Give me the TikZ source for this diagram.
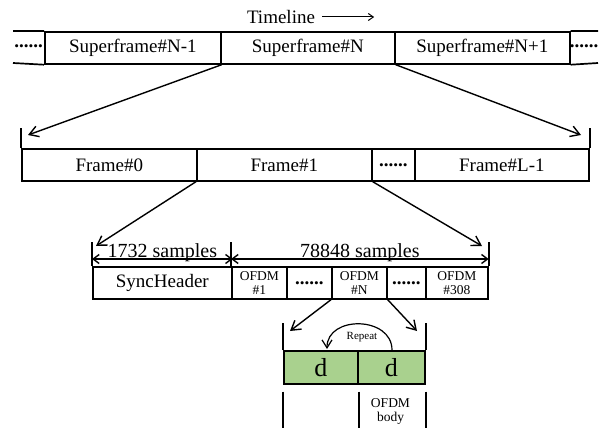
\documentclass[tikz,border=0pt]{standalone}
\usepackage{fontspec}
\setmainfont{Liberation Serif}
\usetikzlibrary{arrows.meta}
\definecolor{dgreen}{HTML}{A9D18E}

\begin{document}
\begin{tikzpicture}[x=1pt,y=-1pt,line width=1.7pt,
    cell/.style={draw,anchor=north west,minimum height=32pt,inner sep=0pt,font=\fontsize{19}{21}\selectfont},
    dots/.style={font=\fontsize{19}{21}\selectfont\bfseries},
    small/.style={font=\fontsize{13.5}{14}\selectfont,align=center},
    big/.style={font=\fontsize{20}{22}\selectfont},
    tip/.style={line width=1.4pt,-{Straight Barb[length=9pt,width=11pt]}},
    dim/.style={line width=1.4pt,{Straight Barb[length=6pt,width=9pt]}-{Straight Barb[length=6pt,width=9pt]}}]
\useasboundingbox (0,0) rectangle (603,428);
    % superframes
    \node[font=\fontsize{19}{21}\selectfont] (tl) at (281,17) {Timeline};
    \draw[line width=1pt,-{Straight Barb[length=5pt,width=7pt]}] ([xshift=3pt]tl.east) -- ++(52,0);
    \node[cell,minimum width=176pt] (sfA) at (44,31) {Superframe\#N-1};
    \node[cell,minimum width=174pt] (sfB) at (220,31) {Superframe\#N};
    \node[cell,minimum width=175pt] (sfC) at (394,31) {Superframe\#N+1};
    \node[dots] (sfL) at (28.5,46) {......};
    \node[dots] (sfR) at (584,46) {......};
    \draw (13,31) -- (sfA.north west) (13,63) -- (sfA.south west);
    \draw (sfC.north east) -- (598,31) (sfC.south east) -- (598,63);
    % frames
    \node[cell,minimum width=175pt] (fr0) at (21,148) {Frame\#0};
    \node[cell,minimum width=175pt] (fr1) at (196,148) {Frame\#1};
    \node[cell,dots,minimum width=43pt] (frD) at (371,148) {......};
    \node[cell,minimum width=174pt] (frL) at (414,148) {Frame\#L-1};
    \draw (fr0.north west) -- ++(0,-20) (frL.north east) -- ++(0,-20);
    \coordinate (tA) at (28,135);
    \coordinate (tB) at (581,135);
    \draw[tip] (sfA.south east) -- (tA);
    \draw[tip] (sfB.south east) -- (tB);
    % samples
    \node[cell,minimum width=139pt] (sync) at (92,266) {SyncHeader};
    \node[cell,small,minimum width=55pt] (of1) at (231,266) {OFDM\\\#1};
    \node[cell,dots,minimum width=45pt] (ofD1) at (286,266) {......};
    \node[cell,small,minimum width=55pt] (ofN) at (331,266) {OFDM\\\#N};
    \node[cell,dots,minimum width=39pt] (ofD2) at (386,266) {......};
    \node[cell,small,minimum width=62pt] (of308) at (425,266) {OFDM\\\#308};
    \draw (sync.north west) -- ++(0,-24) (of1.north west) -- ++(0,-24) (of308.north east) -- ++(0,-24);
    \draw[dim] ([yshift=7pt]sync.north west) -- ([yshift=7pt]sync.north east)
        node[midway,big,anchor=base,yshift=2pt,inner sep=0pt] (lenA) {1732 samples};
    \draw[dim] ([yshift=7pt]of1.north west) -- ([yshift=7pt]of308.north east)
        node[midway,big,anchor=base,yshift=2pt,inner sep=0pt] (lenB) {78848 samples};
    \coordinate (tC) at (96,246);
    \coordinate (tD) at (482,246);
    \draw[tip] (fr1.south west) -- (tC);
    \draw[tip] (fr1.south east) -- (tD);
    % repeated part
    \node[cell,fill=dgreen,font=\fontsize{26}{28}\selectfont,minimum width=74pt,minimum height=33pt] (d1) at (283,350) {d};
    \node[cell,fill=dgreen,font=\fontsize{26}{28}\selectfont,minimum width=67pt,minimum height=33pt] (d2) at (357,350) {d};
    \draw (d1.north west) -- ++(0,-27) (d2.north east) -- ++(0,-27);
    \coordinate (tE) at (290,331);
    \coordinate (tF) at (417,331);
    \draw[tip] (ofN.south west) -- (tE);
    \draw[tip] (ofN.south east) -- (tF);
    \draw[line width=1.2pt,-{Straight Barb[length=8pt,width=10pt]}] ([xshift=35pt]d2.north west) .. controls +(0,-34) and +(0,-34) .. ([xshift=-30pt,yshift=1pt]d2.north west);
    \node[font=\fontsize{11}{12}\selectfont] (rep) at (362,337) {Repeat};
    \draw ([yshift=-7pt]d1.south west) -- ++(0,40) ([yshift=-7pt]d1.south east) -- ++(0,40)
        ([yshift=-7pt]d2.south east) -- ++(0,40);
    \node[small] (body) at (390.5,411) {OFDM\\body};
\end{tikzpicture}
\end{document}
